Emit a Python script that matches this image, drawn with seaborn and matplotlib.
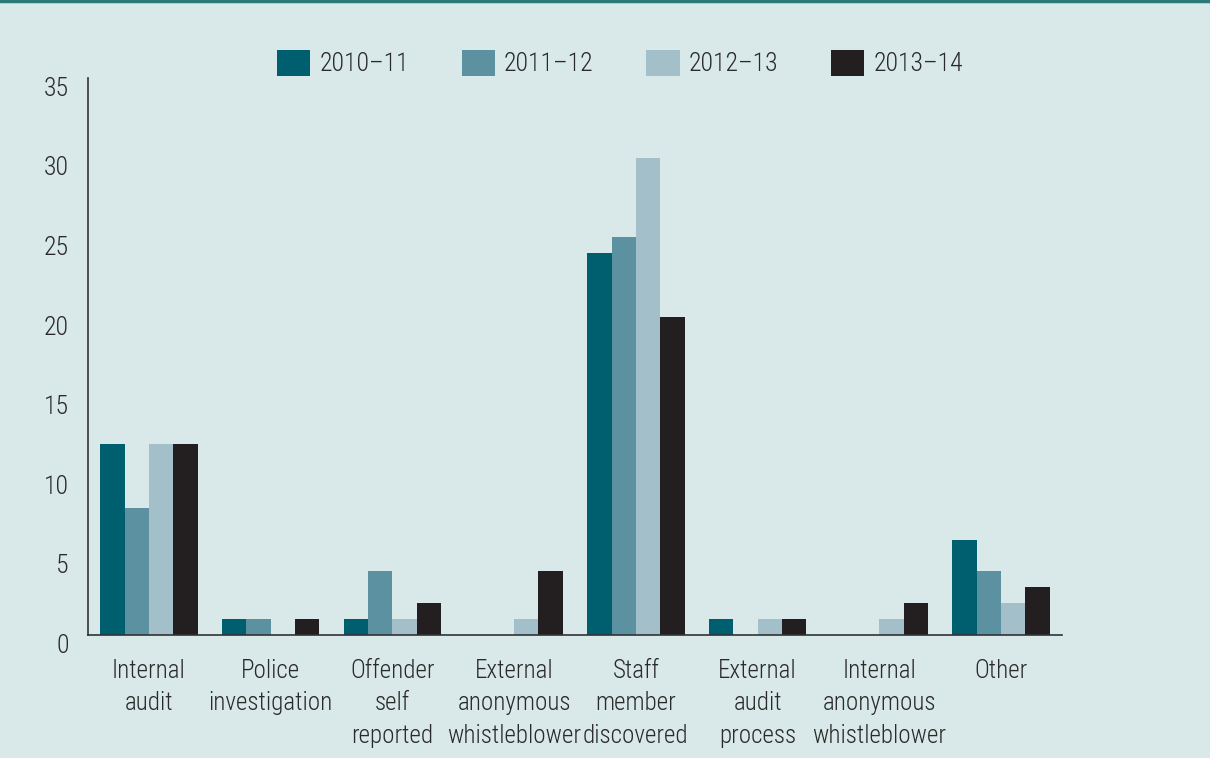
import matplotlib
matplotlib.use("Agg")
import matplotlib.pyplot as plt
import matplotlib.transforms as mtransforms
from matplotlib.lines import Line2D
import seaborn as sns
import pandas as pd

categories = ["Internal\naudit", "Police\ninvestigation", "Offender\nself\nreported",
              "External\nanonymous\nwhistleblower", "Staff\nmember\ndiscovered",
              "External\naudit\nprocess", "Internal\nanonymous\nwhistleblower", "Other"]
years = ["2010–11", "2011–12", "2012–13", "2013–14"]
v_2010_11 = [12, 1, 1, 0, 24, 1, 0, 6]
v_2011_12 = [8, 1, 4, 0, 25, 0, 0, 4]
v_2012_13 = [12, 0, 1, 1, 30, 1, 1, 2]
v_2013_14 = [12, 1, 2, 4, 20, 1, 2, 3]
y_ticks = [0, 5, 10, 15, 20, 25, 30, 35]

colors = ["#005f6e", "#5b91a1", "#a3bfca", "#231f20"]
bg = "#d9e8e8"
txt_color = "#2a2a2a"

rows = []
for yr, vals in zip(years, [v_2010_11, v_2011_12, v_2012_13, v_2013_14]):
    for c, v in zip(categories, vals):
        rows.append({"cat": c, "year": yr, "value": v})
df = pd.DataFrame(rows)

sns.set_theme(style="white")
plt.rcParams["font.family"] = ["Roboto Condensed", "DejaVu Sans"]
plt.rcParams["font.weight"] = "light"

fig = plt.figure(figsize=(12.1, 7.58), dpi=100, facecolor=bg)
ax = fig.add_axes([88/1210, 1-635/758, (1062-88)/1210, (635-78)/758])
ax.set_facecolor(bg)

sns.barplot(data=df, x="cat", y="value", hue="year", hue_order=years,
            order=categories, palette=colors, width=0.8, saturation=1,
            linewidth=0, ax=ax, legend=True)

ax.set_ylim(0, 35)
ax.set_xlim(-0.5, 7.5)
ax.set_yticks(y_ticks)
ax.set_xlabel("")
ax.set_ylabel("")
for s in ["top", "right"]:
    ax.spines[s].set_visible(False)
for s in ["left", "bottom"]:
    ax.spines[s].set_color("#333333")
    ax.spines[s].set_linewidth(1.2)
ax.tick_params(axis="y", length=0, pad=14, labelsize=18.5, labelcolor=txt_color)
ax.tick_params(axis="x", length=0, pad=17, labelsize=18, labelcolor=txt_color)
for lab in ax.get_xticklabels():
    lab.set_linespacing(1.45)
offset = mtransforms.ScaledTranslation(0, -6/72, fig.dpi_scale_trans)
for lab in ax.get_yticklabels():
    lab.set_transform(lab.get_transform() + offset)

handles, labels = ax.get_legend_handles_labels()
ax.legend(handles, labels, loc="center", bbox_to_anchor=(620/1210, 1-63/758),
          bbox_transform=fig.transFigure, ncol=4, frameon=False, fontsize=18.5,
          handlelength=1.3, handleheight=1.2, handletextpad=0.35,
          columnspacing=2.05, labelcolor=txt_color)

fig.add_artist(Line2D([0, 1], [1-1/758, 1-1/758], transform=fig.transFigure,
                      color="#2a7a7a", linewidth=2.5))

fig.savefig("out.png", dpi=100, facecolor=bg)
